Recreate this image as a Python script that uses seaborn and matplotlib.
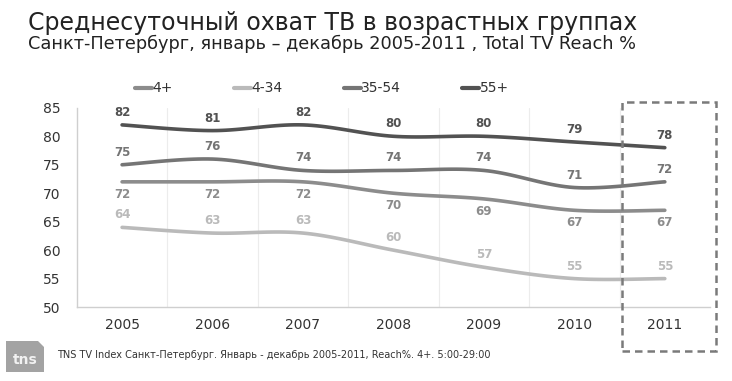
import numpy as np
import pandas as pd
import seaborn as sns
import matplotlib.pyplot as plt
from matplotlib.patches import Rectangle, Polygon

years = ['2005', '2006', '2007', '2008', '2009', '2010', '2011']
groups = ['4+', '4-34', '35-54', '55+']
reach_4 = [72, 72, 72, 70, 69, 67, 67]
reach_4_34 = [64, 63, 63, 60, 57, 55, 55]
reach_35_54 = [75, 76, 74, 74, 74, 71, 72]
reach_55 = [82, 81, 82, 80, 80, 79, 78]

colors = {'4+': '#8c8c8c', '4-34': '#bababa', '35-54': '#757575', '55+': '#525252'}
label_dy = {'4+': -9, '4-34': 9, '35-54': 9, '55+': 9}

sns.set_style('white')
plt.rcParams['font.family'] = ['DejaVu Sans']

df = pd.DataFrame({'year': years * 4,
                   'group': np.repeat(groups, len(years)),
                   'reach': reach_4 + reach_4_34 + reach_35_54 + reach_55})
df['x'] = np.tile(np.arange(len(years)), 4)


def smooth(x, y, n=20):
    # catmull-rom so the lines look like the excel smoothed ones
    x = np.asarray(x, float)
    y = np.asarray(y, float)
    px = np.r_[x[0], x, x[-1]]
    py = np.r_[y[0], y, y[-1]]
    xs, ys = [], []
    t = np.linspace(0, 1, n, endpoint=False)
    for i in range(1, len(px) - 2):
        for arr, out in ((px, xs), (py, ys)):
            p0, p1, p2, p3 = arr[i - 1], arr[i], arr[i + 1], arr[i + 2]
            out.extend(0.5 * (2 * p1 + (-p0 + p2) * t + (2 * p0 - 5 * p1 + 4 * p2 - p3) * t ** 2
                              + (-p0 + 3 * p1 - 3 * p2 + p3) * t ** 3))
    xs.append(x[-1])
    ys.append(y[-1])
    return np.array(xs), np.array(ys)


curves = []
for g in groups:
    sub = df[df['group'] == g]
    sx, sy = smooth(sub['x'], sub['reach'])
    curves.append(pd.DataFrame({'x': sx, 'reach': sy, 'group': g}))
curves = pd.concat(curves)

fig = plt.figure(figsize=(7.32, 3.81), dpi=100)
ax = fig.add_axes([0.105, 0.194, 0.865, 0.523])

sns.lineplot(data=curves, x='x', y='reach', hue='group', hue_order=groups,
             palette=colors, linewidth=2.6, sort=False, estimator=None, ax=ax, legend=False)

for _, r in df.iterrows():
    ax.annotate(f"{r['reach']}", (r['x'], r['reach']), xytext=(0, label_dy[r['group']]),
                textcoords='offset points', ha='center', va='center',
                fontsize=8.5, fontweight='bold', color=colors[r['group']])

ax.set_xlim(-0.5, len(years) - 0.5)
ax.set_ylim(50, 85)
ax.set_yticks(range(50, 86, 5))
ax.set_xticks(range(len(years)))
ax.set_xticklabels(years)
ax.tick_params(axis='y', labelsize=10, colors='#333333', pad=12, length=0)
ax.tick_params(axis='x', labelsize=10, colors='#333333', pad=8, length=0)
ax.set_xlabel('')
ax.set_ylabel('')
for xv in np.arange(0.5, len(years) - 1, 1):
    ax.axvline(xv, color='#ececec', lw=0.8, zorder=0)
for s in ['top', 'right']:
    ax.spines[s].set_visible(False)
for s in ['left', 'bottom']:
    ax.spines[s].set_color('#cfcfcf')
    ax.spines[s].set_linewidth(1)

handles = [plt.Line2D([], [], color=colors[g], lw=3) for g in groups]
fig.legend(handles, groups, loc='center left', bbox_to_anchor=(0.185, 0.768), ncol=4,
           frameon=False, fontsize=10, handlelength=1.2, handletextpad=0.05,
           columnspacing=4.4, labelcolor='#333333', borderpad=0, borderaxespad=0)

fig.patches.append(Rectangle((622 / 732, 1 - 351 / 381), 94 / 732, 249 / 381,
                             transform=fig.transFigure, fill=False, ec='#7a7a7a',
                             lw=1.8, ls=(0, (3, 2))))

fig.text(0.038, 0.94, 'Среднесуточный охват ТВ в возрастных группах',
         fontsize=17, color='#222222', va='center')
fig.text(0.038, 0.885, 'Санкт-Петербург, январь – декабрь 2005-2011 , Total TV Reach %',
         fontsize=12.8, color='#222222', va='center')

# tns logo: grey tab with a cut corner
lx = np.array([6, 38, 44, 44, 6]) / 732
ly = 1 - np.array([341, 341, 347, 372, 372]) / 381
fig.patches.append(Polygon(np.c_[lx, ly], closed=True, transform=fig.transFigure,
                           fc='#a3a3a3', ec='none'))
fig.text(25 / 732, 1 - 360 / 381, 'tns', fontsize=10, fontweight='bold',
         color='#f2f2f2', ha='center', va='center')
fig.text(57 / 732, 1 - 355 / 381,
         'TNS TV Index Санкт-Петербург. Январь - декабрь 2005-2011, Reach%. 4+. 5:00-29:00',
         fontsize=7, color='#333333', va='center')

fig.savefig('out.png', dpi=100)
